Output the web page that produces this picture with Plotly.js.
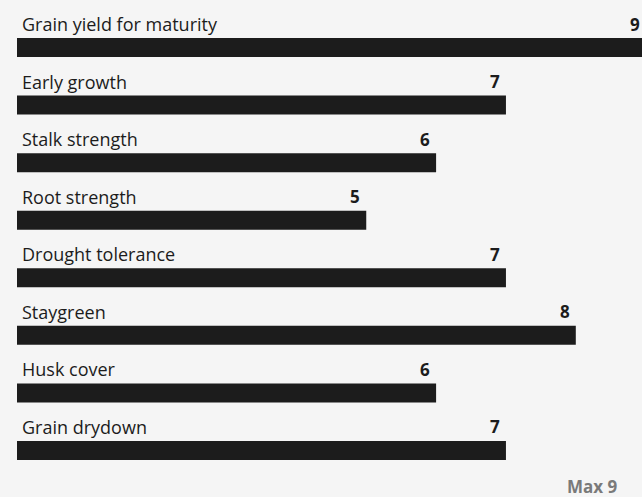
<!DOCTYPE html>
<html><head><meta charset="utf-8">
<script src="https://cdn.plot.ly/plotly-3.0.1.min.js"></script>
<style>html,body{margin:0;padding:0;background:#f5f5f5;overflow:hidden;width:642px;height:497px;}#chart{width:646px;height:497px;}</style>
</head><body><div id="chart"></div>
<script>
const categories = ["Grain yield for maturity","Early growth","Stalk strength","Root strength","Drought tolerance","Staygreen","Husk cover","Grain drydown"];
const values = [9,7,6,5,7,8,6,7];
const maxValue = 9;

const FONT = "'Open Sans', sans-serif";
const ink = "#1c1c1c";

const annotations = [];
categories.forEach((c, i) => {
  annotations.push({x:0, y:c, xref:'x', yref:'y', text:c, showarrow:false, xanchor:'left', yanchor:'middle', xshift:3, yshift:23.5, font:{family:FONT, size:18, color:ink}});
  annotations.push({x:values[i], y:c, xref:'x', yref:'y', text:'<b>'+values[i]+'</b>', showarrow:false, xanchor:'right', yanchor:'middle', xshift:-4, yshift:23.5, font:{family:FONT, size:17, color:ink}});
});
annotations.push({x:618/646, y:1-486.5/497, xref:'paper', yref:'paper', text:'<b>Max '+maxValue+'</b>', showarrow:false, xanchor:'right', yanchor:'middle', borderpad:0, font:{family:FONT, size:17, color:'#7a7a7a'}});

Plotly.newPlot('chart', [{
  type:'bar', orientation:'h', x:values, y:categories,
  marker:{color:ink}, width:0.33, hoverinfo:'none'
}], {
  width:646, height:497, paper_bgcolor:'#f5f5f5', plot_bgcolor:'#f5f5f5',
  margin:{l:17, r:0, t:0, b:0}, showlegend:false,
  xaxis:{range:[0, 629/69.85], visible:false, fixedrange:true},
  yaxis:{type:'category', categoryorder:'array', categoryarray:categories, range:[(497-47.5)/57.57, -47.5/57.57], visible:false, fixedrange:true},
  annotations:annotations
}, {displayModeBar:false, staticPlot:true});
</script></body></html>
